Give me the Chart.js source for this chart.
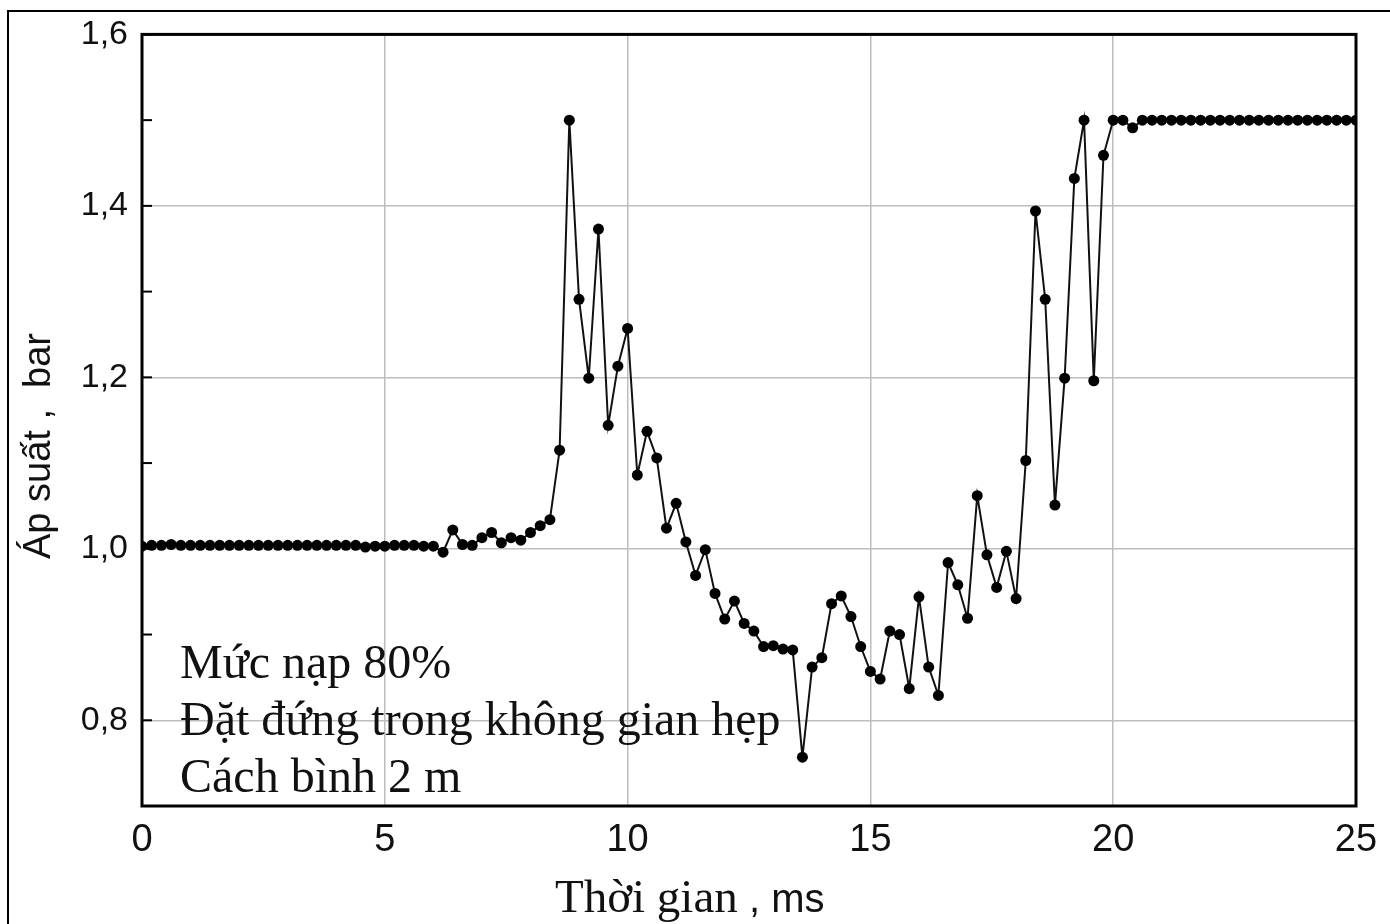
<!DOCTYPE html>
<html>
<head>
<meta charset="utf-8">
<script src="https://cdn.jsdelivr.net/npm/chart.js@4.4.1/dist/chart.umd.min.js"></script>
<style>
  body { margin: 0; background: #fff; }
  #wrap { position: relative; width: 1390px; height: 924px; }
  #frame { position: absolute; left: 7px; top: 10px; right: 0; bottom: 0; border-top: 2px solid #000; border-left: 2px solid #000; pointer-events: none; }
</style>
</head>
<body>
<div id="wrap">
  <canvas id="chart" width="1390" height="924"></canvas>
  <div id="frame"></div>
</div>
<script>
// sample times (ms)
const timeMs = [
  0, 0.2, 0.4, 0.6, 0.8, 1, 1.2, 1.4, 1.6, 1.8, 2, 2.2, 2.4, 2.6, 2.8, 3, 3.2, 3.4, 3.6, 3.8,
  4, 4.2, 4.4, 4.6, 4.8, 5, 5.2, 5.4, 5.6, 5.8, 6, 6.2, 6.4, 6.6, 6.8, 7, 7.2, 7.4, 7.6, 7.8,
  8, 8.2, 8.4, 8.6, 8.8, 9, 9.2, 9.4, 9.6, 9.8, 10, 10.2, 10.4, 10.6, 10.8, 11, 11.2, 11.4, 11.6, 11.8,
  12, 12.2, 12.4, 12.6, 12.8, 13, 13.2, 13.4, 13.6, 13.8, 14, 14.2, 14.4, 14.6, 14.8, 15, 15.2, 15.4, 15.6, 15.8,
  16, 16.2, 16.4, 16.6, 16.8, 17, 17.2, 17.4, 17.6, 17.8, 18, 18.2, 18.4, 18.6, 18.8, 19, 19.2, 19.4, 19.6, 19.8,
  20, 20.2, 20.4, 20.6, 20.8, 21, 21.2, 21.4, 21.6, 21.8, 22, 22.2, 22.4, 22.6, 22.8, 23, 23.2, 23.4, 23.6, 23.8,
  24, 24.2, 24.4, 24.6, 24.8, 25
];

// pressure (bar)
const pressureBar = [
  1.003, 1.004, 1.004, 1.005, 1.004, 1.004, 1.004, 1.004, 1.004, 1.004, 1.004, 1.004, 1.004, 1.004, 1.004, 1.004,
  1.004, 1.004, 1.004, 1.004, 1.004, 1.004, 1.004, 1.002, 1.003, 1.003, 1.004, 1.004, 1.004, 1.003, 1.003,
  0.996, 1.022, 1.005, 1.004, 1.013, 1.019, 1.007, 1.013, 1.010, 1.019, 1.027, 1.034,
  1.115, 1.500, 1.291, 1.199, 1.373, 1.144, 1.213, 1.257, 1.086, 1.137, 1.106,
  1.024, 1.053, 1.008, 0.969, 0.999, 0.948, 0.918, 0.939, 0.913, 0.904, 0.886, 0.887, 0.883, 0.882,
  0.757, 0.862, 0.873, 0.936, 0.945, 0.921, 0.886, 0.857, 0.848, 0.904, 0.900, 0.837, 0.944, 0.862, 0.829,
  0.984, 0.958, 0.919, 1.062, 0.993, 0.955, 0.997, 0.942,
  1.103, 1.394, 1.291, 1.051, 1.199, 1.432, 1.500, 1.196, 1.459, 1.500, 1.500, 1.491,
  1.500, 1.500, 1.500, 1.500, 1.500, 1.500, 1.500, 1.500, 1.500, 1.500, 1.500, 1.500,
  1.500, 1.500, 1.500, 1.500, 1.500, 1.500, 1.500, 1.500, 1.500, 1.500, 1.500
];

const noteLines = ['Mức nạp 80%', 'Đặt đứng trong không gian hẹp', 'Cách bình 2 m'];
const yTitle = 'Áp suất ,  bar';
const xTitleMain = 'Thời gian';
const xTitleUnit = ' , ms';

const points = timeMs.map((t, i) => ({ x: t, y: pressureBar[i] }));

const GRID = '#bdbdbd';
const isMajor = (v) => Math.round(v * 10) % 2 === 0;

// frame around plot, inward ticks on y axis, titles and note text
const decorPlugin = {
  id: 'decor',
  afterDraw(chart) {
    const { ctx, chartArea: a, scales } = chart;
    ctx.save();
    // inward y ticks
    ctx.strokeStyle = '#000';
    ctx.lineWidth = 2;
    scales.y.ticks.forEach((tk) => {
      const py = scales.y.getPixelForValue(tk.value);
      ctx.beginPath();
      ctx.moveTo(a.left, py);
      ctx.lineTo(a.left + 10, py);
      ctx.stroke();
    });
    // plot frame
    ctx.lineWidth = 3;
    ctx.strokeRect(a.left, a.top, a.right - a.left, a.bottom - a.top);

    // note text
    ctx.fillStyle = '#111';
    ctx.font = '48px "Liberation Serif", "Times New Roman", serif';
    ctx.textBaseline = 'alphabetic';
    ctx.textAlign = 'left';
    noteLines.forEach((s, i) => ctx.fillText(s, 180, 678 + i * 57));

    // x title
    ctx.font = '47px "Liberation Serif", serif';
    ctx.fillText(xTitleMain, 555, 912);
    const w = ctx.measureText(xTitleMain).width;
    ctx.font = '40px "Liberation Sans Narrow", "Liberation Sans", sans-serif';
    ctx.fillText(xTitleUnit, 555 + w, 912);

    // y title
    ctx.translate(50, 446);
    ctx.rotate(-Math.PI / 2);
    ctx.textAlign = 'center';
    ctx.font = '38px "Liberation Sans Narrow", "Liberation Sans", sans-serif';
    ctx.fillText(yTitle, 0, 0);
    ctx.restore();
  }
};

new Chart(document.getElementById('chart').getContext('2d'), {
  type: 'line',
  data: {
    datasets: [{
      data: points,
      borderColor: '#111',
      borderWidth: 2,
      backgroundColor: '#000',
      pointBackgroundColor: '#000',
      pointBorderColor: '#000',
      pointRadius: 5.5,
      pointBorderWidth: 0,
      tension: 0,
      fill: false,
    }]
  },
  options: {
    responsive: false,
    animation: false,
    layout: { padding: { top: 31, right: 34, left: 0, bottom: 0 } },
    plugins: {
      legend: { display: false },
      tooltip: { enabled: false },
    },
    scales: {
      x: {
        type: 'linear',
        min: 0,
        max: 25,
        afterFit: (s) => { s.height = 118; },
        border: { display: false },
        grid: { color: GRID, lineWidth: 1.5, drawTicks: false },
        ticks: {
          stepSize: 5,
          padding: 12,
          color: '#111',
          font: { family: '"Liberation Sans", Arial, sans-serif', size: 38 },
          maxRotation: 0,
        },
      },
      y: {
        min: 0.7,
        max: 1.6,
        afterFit: (s) => { s.width = 142; },
        border: { display: false },
        grid: {
          drawTicks: false,
          lineWidth: 1.5,
          color: (c) => (c.tick && isMajor(c.tick.value) ? GRID : 'rgba(0,0,0,0)'),
        },
        ticks: {
          stepSize: 0.1,
          padding: 14,
          color: '#111',
          font: { family: '"Liberation Sans", Arial, sans-serif', size: 34 },
          callback: (v) => (isMajor(v) && Math.round(v * 10) !== 7 ? v.toFixed(1).replace('.', ',') : ''),
        },
      },
    },
  },
  plugins: [decorPlugin],
});
</script>
</body>
</html>
